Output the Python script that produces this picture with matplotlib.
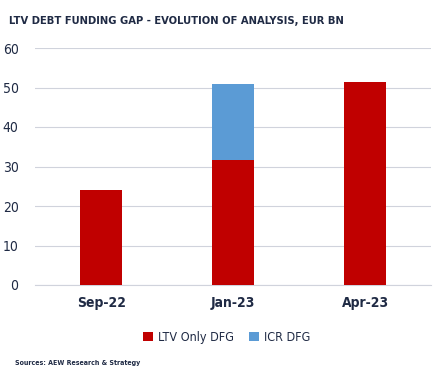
import matplotlib
matplotlib.use("Agg")
import matplotlib.pyplot as plt
import numpy as np

# Data
categories = ["Sep-22", "Jan-23", "Apr-23"]
ltv_only = [24.1, 31.7, 51.4]
icr = [0.0, 19.2, 0.0]
y_ticks = [0, 10, 20, 30, 40, 50, 60]

RED = "#C00000"
BLUE = "#5B9BD5"
TXT = "#1F2A44"

plt.rcParams["font.family"] = ["DejaVu Sans"]
plt.rcParams["font.stretch"] = "condensed"

fig = plt.figure(figsize=(4.4, 3.75), dpi=100)
ax = fig.add_axes([0.08, 0.24, 0.90, 0.632])

x = np.arange(len(categories))
ax.bar(x, ltv_only, width=0.32, color=RED, label="LTV Only DFG", zorder=3)
ax.bar(x, icr, width=0.32, bottom=ltv_only, color=BLUE, label="ICR DFG", zorder=3)

ax.set_ylim(0, 60)
ax.set_xlim(-0.5, 2.5)
ax.set_yticks(y_ticks)
ax.set_xticks(x)
ax.set_xticklabels(categories, fontsize=10, fontweight="bold", color=TXT)
for lbl in ax.get_yticklabels():
    lbl.set_fontsize(10)
    lbl.set_color(TXT)
ax.grid(axis="y", color="#D0D3DC", linewidth=0.8, zorder=0)
ax.tick_params(axis="both", length=0, pad=8)
ax.tick_params(axis="y", pad=12)
for side in ["top", "right", "left"]:
    ax.spines[side].set_visible(False)
ax.spines["bottom"].set_color("#D0D3DC")

fig.text(0.02, 0.945, "LTV DEBT FUNDING GAP - EVOLUTION OF ANALYSIS, EUR BN",
         fontsize=8, fontweight="bold", color=TXT, ha="left", va="center")

handles, labels = ax.get_legend_handles_labels()
fig.legend(handles, labels, loc="center", bbox_to_anchor=(0.515, 0.1), ncol=2,
           frameon=False, fontsize=9, handlelength=0.8, handleheight=0.8,
           columnspacing=1.2, handletextpad=0.4, labelcolor=TXT)

fig.text(0.035, 0.032, "Sources: AEW Research & Strategy", fontsize=5,
         fontweight="bold", color=TXT, ha="left", va="center")

fig.savefig("out.png", dpi=100)
